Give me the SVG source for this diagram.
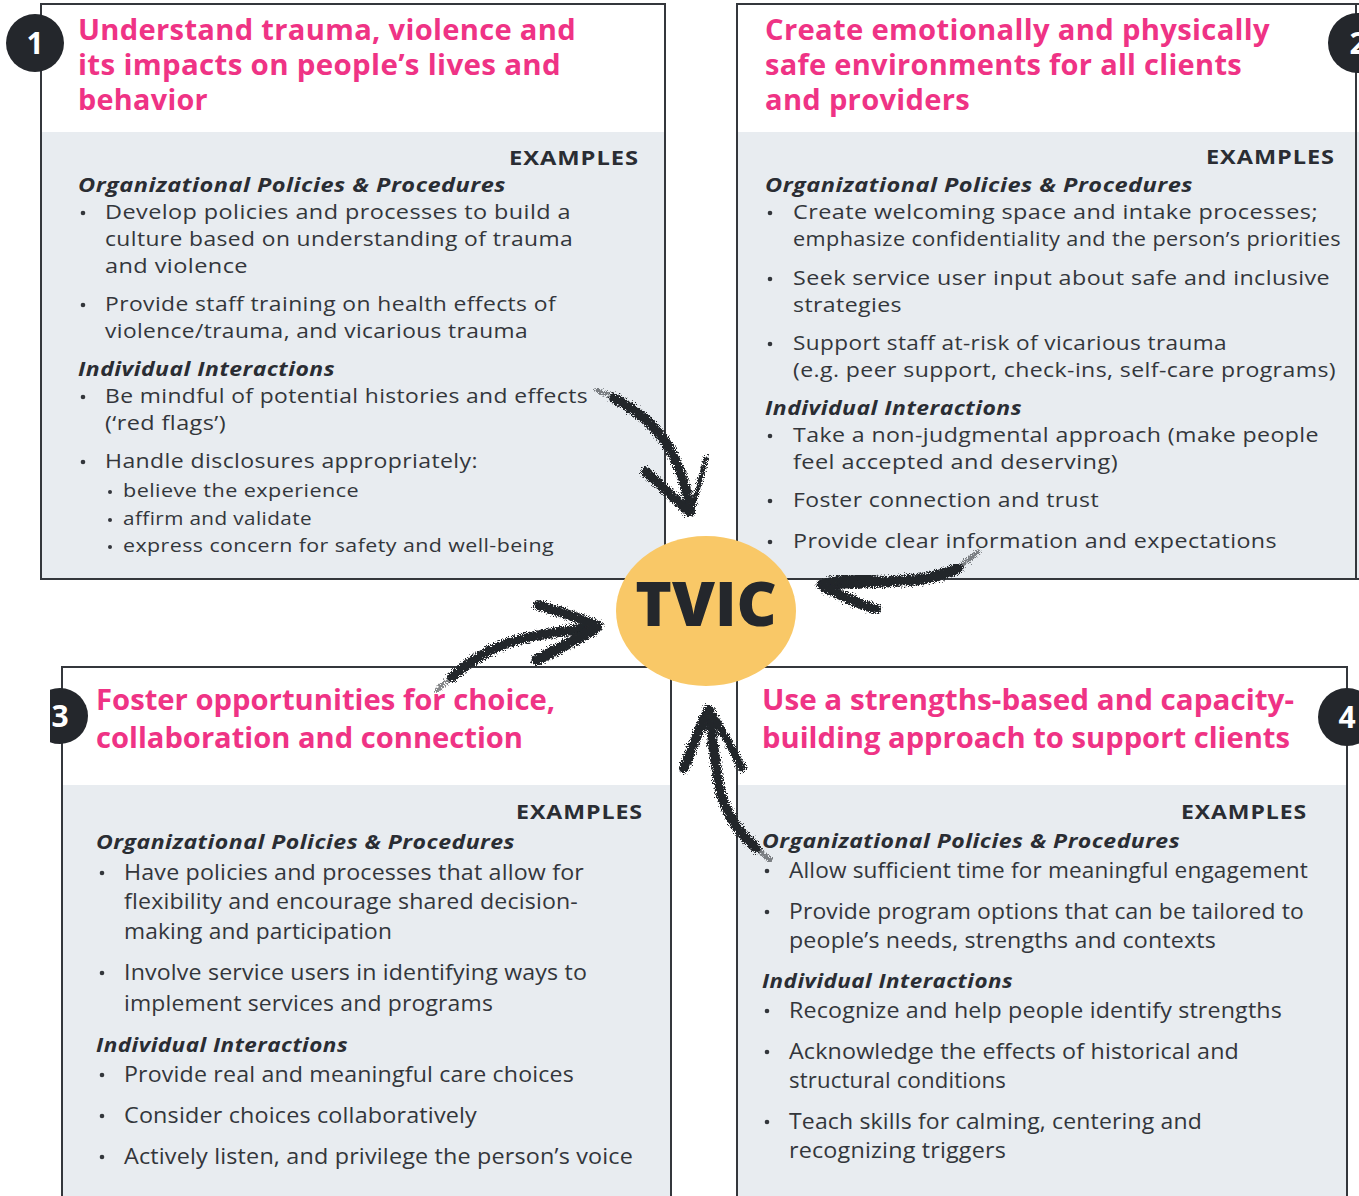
<svg xmlns="http://www.w3.org/2000/svg" width="1359" height="1196" viewBox="0 0 1359 1196">
  <defs>
    <style>
      .frame { fill: none; stroke: #34373c; stroke-width: 2; }
      .head { fill: #ffffff; }
      .body { fill: #e8ecf0; }
      text { font-family: "Open Sans", "Liberation Sans", sans-serif; }
      .title { font-weight: 700; font-size: 28px; letter-spacing: 0.3px; fill: #ef3385; }
      .title-b { font-size: 29px; letter-spacing: 0px; }
      .ex { font-weight: 700; font-size: 20px; letter-spacing: 0.8px; fill: #2a2d33; }
      .sub { font-weight: 700; font-style: italic; font-size: 19.5px; letter-spacing: 0.4px; fill: #2a2d33; }
      .txt { font-size: 19.5px; letter-spacing: 0.35px; fill: #33363b; }
      .txt-s { font-size: 17.5px; }
      .txt-b { font-size: 21px; letter-spacing: 0.15px; }
      .dot { fill: #33363b; }
      .num-c { fill: #24272c; }
      .num { font-weight: 700; font-size: 30px; fill: #ffffff; text-anchor: middle; }
      .brush { fill: none; stroke: #24272c; stroke-linecap: round; stroke-linejoin: round; filter: url(#rough); }
      .wisp { fill: none; stroke: #24272c; stroke-linecap: round; stroke-dasharray: 1 3; opacity: 0.55; filter: url(#rough); }
    </style>
    <filter id="rough" x="-20%" y="-20%" width="140%" height="140%">
      <feTurbulence type="fractalNoise" baseFrequency="1.1" numOctaves="2" seed="3" result="noise"/>
      <feDisplacementMap in="SourceGraphic" in2="noise" scale="9" xChannelSelector="R" yChannelSelector="G"/>
    </filter>
    <clipPath id="crop3">
      <rect x="50" y="600" width="100" height="200"/>
    </clipPath>
  </defs>

  <rect x="0" y="0" width="1359" height="1196" fill="#ffffff"/>

  <!-- Principle 1 -->
  <g id="node-1">
    <rect class="head" x="41" y="4" width="624" height="128"/>
    <rect class="body" x="41" y="132" width="624" height="447"/>
    <rect class="frame" x="41" y="4" width="624" height="575"/>
    <text class="title" x="78" y="40" textLength="498" lengthAdjust="spacingAndGlyphs">Understand trauma, violence and</text>
    <text class="title" x="78" y="75" textLength="483" lengthAdjust="spacingAndGlyphs">its impacts on people’s lives and</text>
    <text class="title" x="78" y="110" textLength="130" lengthAdjust="spacingAndGlyphs">behavior</text>
    <text class="ex" x="509" y="165" textLength="130" lengthAdjust="spacingAndGlyphs">EXAMPLES</text>
    <text class="sub" x="78" y="192" textLength="428" lengthAdjust="spacingAndGlyphs">Organizational Policies &amp; Procedures</text>
    <circle class="dot" cx="83" cy="213" r="2.3"/>
    <text class="txt" x="105" y="219" textLength="466" lengthAdjust="spacingAndGlyphs">Develop policies and processes to build a</text>
    <text class="txt" x="105" y="246" textLength="468" lengthAdjust="spacingAndGlyphs">culture based on understanding of trauma</text>
    <text class="txt" x="105" y="273" textLength="143" lengthAdjust="spacingAndGlyphs">and violence</text>
    <circle class="dot" cx="83" cy="305" r="2.3"/>
    <text class="txt" x="105" y="311" textLength="451" lengthAdjust="spacingAndGlyphs">Provide staff training on health effects of</text>
    <text class="txt" x="105" y="338" textLength="423" lengthAdjust="spacingAndGlyphs">violence/trauma, and vicarious trauma</text>
    <text class="sub" x="78" y="376" textLength="257" lengthAdjust="spacingAndGlyphs">Individual Interactions</text>
    <circle class="dot" cx="83" cy="397" r="2.3"/>
    <text class="txt" x="105" y="403" textLength="483" lengthAdjust="spacingAndGlyphs">Be mindful of potential histories and effects</text>
    <text class="txt" x="105" y="430" textLength="121" lengthAdjust="spacingAndGlyphs">(‘red flags’)</text>
    <circle class="dot" cx="83" cy="462" r="2.3"/>
    <text class="txt" x="105" y="468" textLength="373" lengthAdjust="spacingAndGlyphs">Handle disclosures appropriately:</text>
    <circle class="dot" cx="110" cy="492" r="2"/>
    <text class="txt txt-s" x="123" y="497" textLength="236" lengthAdjust="spacingAndGlyphs">believe the experience</text>
    <circle class="dot" cx="110" cy="520" r="2"/>
    <text class="txt txt-s" x="123" y="525" textLength="189" lengthAdjust="spacingAndGlyphs">affirm and validate</text>
    <circle class="dot" cx="110" cy="547" r="2"/>
    <text class="txt txt-s" x="123" y="552" textLength="431" lengthAdjust="spacingAndGlyphs">express concern for safety and well-being</text>
    <circle class="num-c" cx="35" cy="43" r="29"/>
    <text class="num" x="35" y="54">1</text>
  </g>

  <!-- Principle 2 -->
  <g id="node-2">
    <rect class="head" x="737" y="4" width="619" height="128"/>
    <rect class="body" x="737" y="132" width="622" height="447"/>
    <path class="frame" d="M1359 4 H737 V579 H1359 M1356 4 V579"/>
    <text class="title" x="765" y="40" textLength="505" lengthAdjust="spacingAndGlyphs">Create emotionally and physically</text>
    <text class="title" x="765" y="75" textLength="477" lengthAdjust="spacingAndGlyphs">safe environments for all clients</text>
    <text class="title" x="765" y="110" textLength="205" lengthAdjust="spacingAndGlyphs">and providers</text>
    <text class="ex" x="1206" y="164" textLength="129" lengthAdjust="spacingAndGlyphs">EXAMPLES</text>
    <text class="sub" x="765" y="192" textLength="428" lengthAdjust="spacingAndGlyphs">Organizational Policies &amp; Procedures</text>
    <circle class="dot" cx="770" cy="213" r="2.3"/>
    <text class="txt" x="793" y="219" textLength="525" lengthAdjust="spacingAndGlyphs">Create welcoming space and intake processes;</text>
    <text class="txt" x="793" y="246" textLength="548" lengthAdjust="spacingAndGlyphs">emphasize confidentiality and the person’s priorities</text>
    <circle class="dot" cx="770" cy="279" r="2.3"/>
    <text class="txt" x="793" y="285" textLength="537" lengthAdjust="spacingAndGlyphs">Seek service user input about safe and inclusive</text>
    <text class="txt" x="793" y="312" textLength="109" lengthAdjust="spacingAndGlyphs">strategies</text>
    <circle class="dot" cx="770" cy="344" r="2.3"/>
    <text class="txt" x="793" y="350" textLength="434" lengthAdjust="spacingAndGlyphs">Support staff at-risk of vicarious trauma</text>
    <text class="txt" x="793" y="377" textLength="543" lengthAdjust="spacingAndGlyphs">(e.g. peer support, check-ins, self-care programs)</text>
    <text class="sub" x="765" y="415" textLength="257" lengthAdjust="spacingAndGlyphs">Individual Interactions</text>
    <circle class="dot" cx="770" cy="436" r="2.3"/>
    <text class="txt" x="793" y="442" textLength="526" lengthAdjust="spacingAndGlyphs">Take a non-judgmental approach (make people</text>
    <text class="txt" x="793" y="469" textLength="325" lengthAdjust="spacingAndGlyphs">feel accepted and deserving)</text>
    <circle class="dot" cx="770" cy="501" r="2.3"/>
    <text class="txt" x="793" y="507" textLength="306" lengthAdjust="spacingAndGlyphs">Foster connection and trust</text>
    <circle class="dot" cx="770" cy="542" r="2.3"/>
    <text class="txt" x="793" y="548" textLength="484" lengthAdjust="spacingAndGlyphs">Provide clear information and expectations</text>
    <circle class="num-c" cx="1358" cy="43" r="30"/>
    <text class="num" x="1358" y="54">2</text>
  </g>

  <!-- Principle 3 -->
  <g id="node-3">
    <rect class="head" x="62" y="667" width="609" height="118"/>
    <rect class="body" x="62" y="785" width="609" height="411"/>
    <path class="frame" d="M62 1196 V667 H671 V1196"/>
    <text class="title title-b" x="96" y="710" textLength="459" lengthAdjust="spacingAndGlyphs">Foster opportunities for choice,</text>
    <text class="title title-b" x="96" y="748" textLength="427" lengthAdjust="spacingAndGlyphs">collaboration and connection</text>
    <text class="ex" x="516" y="819" textLength="127" lengthAdjust="spacingAndGlyphs">EXAMPLES</text>
    <text class="sub" x="96" y="849" textLength="419" lengthAdjust="spacingAndGlyphs">Organizational Policies &amp; Procedures</text>
    <circle class="dot" cx="102" cy="873" r="2.3"/>
    <text class="txt txt-b" x="124" y="880" textLength="460" lengthAdjust="spacingAndGlyphs">Have policies and processes that allow for</text>
    <text class="txt txt-b" x="124" y="909" textLength="454" lengthAdjust="spacingAndGlyphs">flexibility and encourage shared decision-</text>
    <text class="txt txt-b" x="124" y="939" textLength="268" lengthAdjust="spacingAndGlyphs">making and participation</text>
    <circle class="dot" cx="102" cy="973" r="2.3"/>
    <text class="txt txt-b" x="124" y="980" textLength="463" lengthAdjust="spacingAndGlyphs">Involve service users in identifying ways to</text>
    <text class="txt txt-b" x="124" y="1011" textLength="369" lengthAdjust="spacingAndGlyphs">implement services and programs</text>
    <text class="sub" x="96" y="1052" textLength="252" lengthAdjust="spacingAndGlyphs">Individual Interactions</text>
    <circle class="dot" cx="102" cy="1075" r="2.3"/>
    <text class="txt txt-b" x="124" y="1082" textLength="450" lengthAdjust="spacingAndGlyphs">Provide real and meaningful care choices</text>
    <circle class="dot" cx="102" cy="1116" r="2.3"/>
    <text class="txt txt-b" x="124" y="1123" textLength="353" lengthAdjust="spacingAndGlyphs">Consider choices collaboratively</text>
    <circle class="dot" cx="102" cy="1157" r="2.3"/>
    <text class="txt txt-b" x="124" y="1164" textLength="509" lengthAdjust="spacingAndGlyphs">Actively listen, and privilege the person’s voice</text>
    <g clip-path="url(#crop3)">
      <circle class="num-c" cx="60" cy="716" r="28"/>
      <text class="num" x="60" y="727">3</text>
    </g>
  </g>

  <!-- Principle 4 -->
  <g id="node-4">
    <rect class="head" x="737" y="667" width="610" height="118"/>
    <rect class="body" x="737" y="785" width="610" height="411"/>
    <path class="frame" d="M737 1196 V667 H1347 V1196"/>
    <text class="title title-b" x="762" y="710" textLength="532" lengthAdjust="spacingAndGlyphs">Use a strengths-based and capacity-</text>
    <text class="title title-b" x="762" y="748" textLength="528" lengthAdjust="spacingAndGlyphs">building approach to support clients</text>
    <text class="ex" x="1181" y="819" textLength="126" lengthAdjust="spacingAndGlyphs">EXAMPLES</text>
    <text class="sub" x="762" y="848" textLength="418" lengthAdjust="spacingAndGlyphs">Organizational Policies &amp; Procedures</text>
    <circle class="dot" cx="767" cy="871" r="2.3"/>
    <text class="txt txt-b" x="789" y="878" textLength="519" lengthAdjust="spacingAndGlyphs">Allow sufficient time for meaningful engagement</text>
    <circle class="dot" cx="767" cy="912" r="2.3"/>
    <text class="txt txt-b" x="789" y="919" textLength="515" lengthAdjust="spacingAndGlyphs">Provide program options that can be tailored to</text>
    <text class="txt txt-b" x="789" y="948" textLength="427" lengthAdjust="spacingAndGlyphs">people’s needs, strengths and contexts</text>
    <text class="sub" x="762" y="988" textLength="251" lengthAdjust="spacingAndGlyphs">Individual Interactions</text>
    <circle class="dot" cx="767" cy="1011" r="2.3"/>
    <text class="txt txt-b" x="789" y="1018" textLength="493" lengthAdjust="spacingAndGlyphs">Recognize and help people identify strengths</text>
    <circle class="dot" cx="767" cy="1052" r="2.3"/>
    <text class="txt txt-b" x="789" y="1059" textLength="450" lengthAdjust="spacingAndGlyphs">Acknowledge the effects of historical and</text>
    <text class="txt txt-b" x="789" y="1088" textLength="217" lengthAdjust="spacingAndGlyphs">structural conditions</text>
    <circle class="dot" cx="767" cy="1122" r="2.3"/>
    <text class="txt txt-b" x="789" y="1129" textLength="413" lengthAdjust="spacingAndGlyphs">Teach skills for calming, centering and</text>
    <text class="txt txt-b" x="789" y="1158" textLength="217" lengthAdjust="spacingAndGlyphs">recognizing triggers</text>
    <circle class="num-c" cx="1347" cy="717" r="29"/>
    <text class="num" x="1347" y="728">4</text>
  </g>

  <!-- Brush-stroke arrows pointing to the centre -->
  <g id="connectors">
    <g id="arrow-1">
      <path class="wisp" stroke-width="5" d="M597 390 C604 393 610 395 616 399"/>
      <path class="brush" stroke-width="10" d="M614 398 C636 410 660 428 673 455 C683 475 688 495 690 512"/>
      <path class="brush" stroke-width="10" d="M646 472 C660 485 675 498 689 512"/>
      <path class="brush" stroke-width="5" d="M706 458 C701 478 696 497 691 512"/>
    </g>
    <g id="arrow-2">
      <path class="wisp" stroke-width="5" d="M978 552 C972 557 966 562 960 566"/>
      <path class="brush" stroke-width="11" d="M958 568 C942 576 925 580 900 581 C870 583 845 584 822 585"/>
      <path class="brush" stroke-width="10" d="M824 587 C842 596 860 605 876 609"/>
      <path class="brush" stroke-width="8" d="M824 583 C840 578 856 576 872 577"/>
    </g>
    <g id="arrow-3">
      <path class="wisp" stroke-width="5" d="M437 690 C442 685 446 682 450 679"/>
      <path class="brush" stroke-width="10" d="M452 677 C472 659 496 645 525 638 C555 632 575 630 598 626"/>
      <path class="brush" stroke-width="10" d="M538 605 C560 612 580 618 598 626"/>
      <path class="brush" stroke-width="11" d="M537 660 C555 650 575 640 594 630"/>
    </g>
    <g id="arrow-4">
      <path class="wisp" stroke-width="5" d="M770 860 C766 856 762 853 758 850"/>
      <path class="brush" stroke-width="10" d="M756 848 C740 834 726 815 720 790 C715 765 712 735 709 710"/>
      <path class="brush" stroke-width="10" d="M684 768 C692 748 700 728 708 710"/>
      <path class="brush" stroke-width="8" d="M742 768 C733 750 722 730 711 712"/>
    </g>
  </g>

  <!-- Centre badge -->
  <g id="node-tvic">
    <ellipse cx="706" cy="611" rx="90" ry="75" fill="#f9c867"/>
    <text x="706" y="626" font-weight="800" font-size="62" fill="#24272c" text-anchor="middle">TVIC</text>
  </g>
</svg>
